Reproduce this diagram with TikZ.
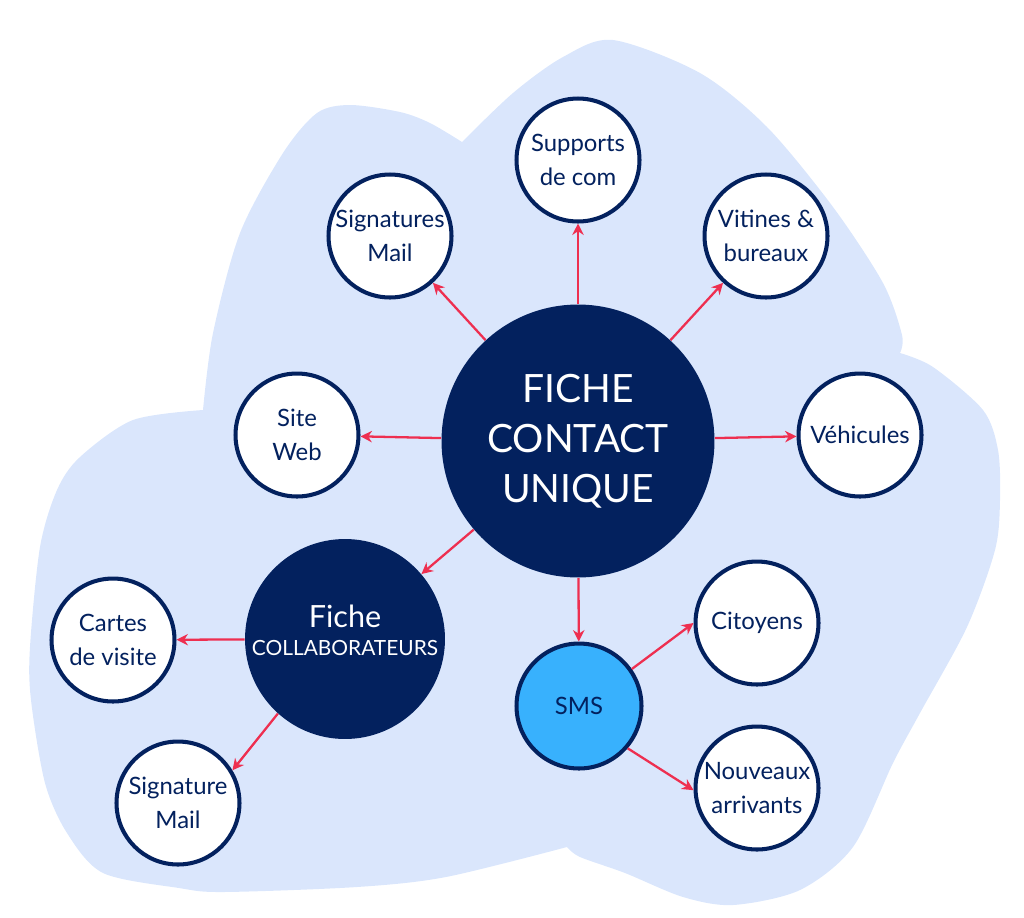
\documentclass[tikz,border=0pt]{standalone}
\usepackage{fontspec}
\setmainfont{Lato}
\usepackage{tikz}
\usetikzlibrary{arrows.meta}
\definecolor{navy}{HTML}{03215E}
\definecolor{fond}{HTML}{DAE6FC}
\definecolor{rouge}{HTML}{EE2F50}
\definecolor{bleusms}{HTML}{38B1FD}

\begin{document}
\begin{tikzpicture}[x=0.02cm,y=-0.02cm,
  rond/.style={circle,draw=navy,line width=2.3pt,fill=white,minimum size=2.46cm,inner sep=0pt,
    align=center,text=navy,font=\fontsize{13.6}{19}\selectfont},
  plein/.style={circle,fill=navy,inner sep=0pt,align=center,text=white},
  fleche/.style={draw=rouge,line width=1.3pt,-{Stealth[length=6.5pt,width=6.5pt]}}]
\useasboundingbox (0,0) rectangle (1024,917);

\fill[fond] plot[smooth] coordinates {(203,410) (213,333) (240,233) (283,153) (317,113) (350,105) (400,112) (430,123) (462,142)}
  -- plot[smooth] coordinates {(462,142) (513,93) (563,57) (613,40) (700,73) (767,127) (833,207) (883,283) (902,335) (900,353)}
  -- plot[smooth] coordinates {(900,353) (933,367) (983,410) (998,450) (1000,500) (995,550) (967,627) (920,713) (893,763) (853,847) (800,890) (733,905) (683,897) (625,873) (580,857) (567,847)}
  -- plot[smooth] coordinates {(567,847) (446,877) (357,887) (223,892) (179,888) (103,873) (67,833) (45,783) (31,700) (30,647) (40,547) (57,490) (80,457) (133,420) (203,410)}
  -- cycle;

\node[plein,minimum size=5.46cm,font=\fontsize{22.2}{28.4}\selectfont] (fiche) at (578,441) {FICHE\\CONTACT\\UNIQUE};
\node[plein,minimum size=4cm,label={[text=white,align=center,yshift=4.8pt]center:{\fontsize{17.4}{17}\selectfont Fiche}\\[4pt]{\fontsize{11.9}{12}\selectfont COLLABORATEURS}}] (collab) at (345,639) {};
\node[rond,fill=bleusms,minimum size=2.5cm] (sms) at (579,706) {SMS};

\node[rond] (supports) at (578,160) {Supports\\de com};
\node[rond] (signatures) at (390,236) {Signatures\\Mail};
\node[rond] (vitrines) at (766,236) {Vitines \&\\bureaux};
\node[rond] (site) at (297,435) {Site\\Web};
\node[rond] (vehicules) at (860,435) {Véhicules};
\node[rond] (cartes) at (113,640) {Cartes\\de visite};
\node[rond] (signature) at (178,803) {Signature\\Mail};
\node[rond] (citoyens) at (757,623) {Citoyens};
\node[rond] (nouveaux) at (757,788) {Nouveaux\\arrivants};

\draw[fleche] (fiche) -- (supports);
\draw[fleche] (fiche) -- (signatures);
\draw[fleche] (fiche) -- (vitrines);
\draw[fleche] (fiche) -- (site);
\draw[fleche] (fiche) -- (vehicules);
\draw[fleche] (fiche) -- (collab);
\draw[fleche] (fiche) -- (sms);
\draw[fleche] (collab) -- (cartes);
\draw[fleche] (collab.228) -- (signature.31);
\draw[fleche] (sms.35) -- (citoyens.180);
\draw[fleche] (sms.319) -- (nouveaux.182);
\end{tikzpicture}
\end{document}
